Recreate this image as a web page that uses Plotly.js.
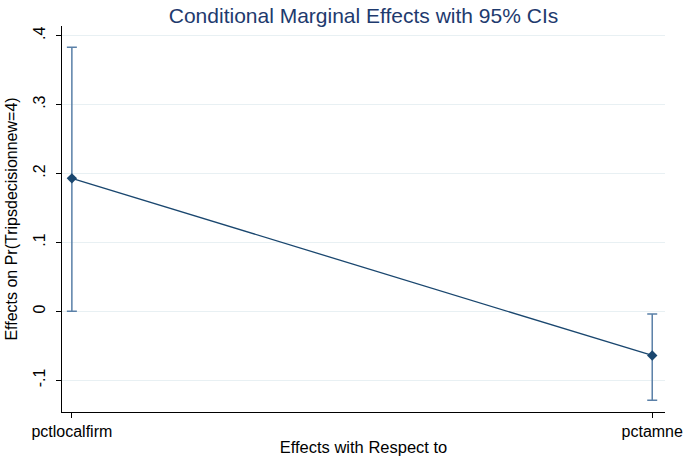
<!DOCTYPE html>
<html>
<head>
<meta charset="utf-8">
<script src="https://cdn.plot.ly/plotly-3.0.1.min.js"></script>
<style>html,body{margin:0;padding:0;background:#fff;}#chart{width:685px;height:461px;}</style>
</head>
<body>
<div id="chart"></div>
<script>
const categories = ["pctlocalfirm", "pctamne"];
const effects = [0.193, -0.064];
const ciUpper = [0.383, -0.004];
const ciLower = [0.0, -0.129];
const yTickVals = [-0.1, 0, 0.1, 0.2, 0.3, 0.4];
const yTickText = ["-.1", "0", ".1", ".2", ".3", ".4"];

const xIdx = categories.map((c, i) => i);

const ciTrace = {
  x: xIdx,
  y: effects,
  type: "scatter",
  mode: "markers",
  marker: {size: 1, color: "rgba(0,0,0,0)"},
  error_y: {
    type: "data",
    symmetric: false,
    array: ciUpper.map((u, i) => u - effects[i]),
    arrayminus: ciLower.map((l, i) => effects[i] - l),
    color: "#5a80a8",
    thickness: 1.5,
    width: 5
  },
  hoverinfo: "skip",
  showlegend: false
};

const lineTrace = {
  x: xIdx,
  y: effects,
  type: "scatter",
  mode: "lines+markers",
  line: {color: "#1a476f", width: 1.3},
  marker: {symbol: "diamond", size: 8, color: "#1a476f"},
  showlegend: false
};

const layout = {
  width: 685,
  height: 461,
  margin: {l: 62, r: 20, t: 26, b: 49, autoexpand: false},
  paper_bgcolor: "#ffffff",
  plot_bgcolor: "#ffffff",
  font: {family: "Liberation Sans, Arial, sans-serif", color: "#000000", size: 16},
  title: {
    text: "Conditional Marginal Effects with 95% CIs",
    x: 0.5, xref: "paper", xanchor: "center",
    y: 0.967, yref: "container", yanchor: "middle",
    font: {size: 21, color: "#1e3a6e", family: "Liberation Sans, Arial, sans-serif"}
  },
  xaxis: {
    range: [-0.017, 1.022],
    tickvals: xIdx,
    ticktext: categories,
    showgrid: false,
    zeroline: false,
    showline: true,
    linecolor: "#000000",
    linewidth: 1,
    ticks: "outside",
    ticklen: 5,
    tickcolor: "#000000",
    tickfont: {size: 16},
    title: {text: "Effects with Respect to", font: {size: 16.5}, standoff: 2}
  },
  yaxis: {
    range: [-0.146, 0.414],
    tickvals: yTickVals,
    ticktext: yTickText,
    tickangle: -90,
    showgrid: true,
    gridcolor: "#e8f0f3",
    gridwidth: 1,
    zeroline: false,
    showline: true,
    linecolor: "#000000",
    linewidth: 1,
    ticks: "outside",
    ticklen: 5,
    tickcolor: "#000000",
    tickfont: {size: 16},
    ticklabelstandoff: 5,
    title: {text: "Effects on Pr(Tripsdecisionnew=4)", font: {size: 16}, standoff: 8}
  }
};

Plotly.newPlot("chart", [ciTrace, lineTrace], layout, {displayModeBar: false, staticPlot: true});
</script>
</body>
</html>
